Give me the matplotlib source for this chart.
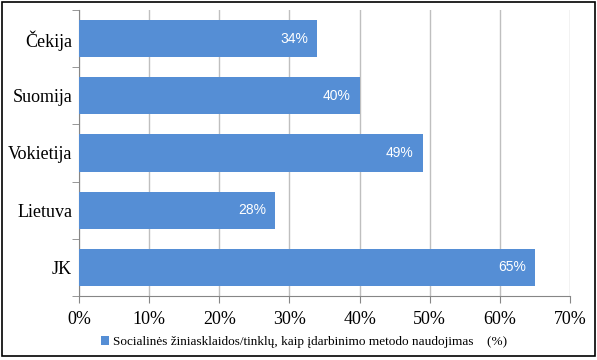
import matplotlib
matplotlib.use("Agg")
import matplotlib.pyplot as plt
from matplotlib.patches import Rectangle
from matplotlib.ticker import FixedLocator, PercentFormatter

categories = ["Čekija", "Suomija", "Vokietija", "Lietuva", "JK"]
values = [34, 40, 49, 28, 65]
xticks = [0, 10, 20, 30, 40, 50, 60, 70]
legend_label = "Socialinės žiniasklaidos/tinklų, kaip įdarbinimo metodo naudojimas    (%)"

fig = plt.figure(figsize=(5.97, 3.6), dpi=100)
ax = fig.add_axes([79/597, 1-296/360, (570-79)/597, (296-10)/360])

ypos = list(range(len(categories)))[::-1]
bars = ax.barh(ypos, values, height=0.65, color="#558ed5", zorder=3, label=legend_label)
for y, v in zip(ypos, values):
    ax.text(v - 1.3, y, f"{v}%", ha="right", va="center", color="white",
            fontsize=10, family="Liberation Sans", zorder=4)

ax.set_xlim(0, 70)
ax.set_ylim(-0.5, len(categories) - 0.5)
ax.set_xticks(xticks)
ax.xaxis.set_major_formatter(PercentFormatter(decimals=0))
ax.set_yticks(ypos)
ax.set_yticklabels(categories)
ax.yaxis.set_minor_locator(FixedLocator([i - 0.5 for i in range(len(categories) + 1)]))
ax.tick_params(axis="y", which="major", length=0, pad=5)
ax.tick_params(axis="y", which="minor", length=5, color="#868686")
ax.tick_params(axis="x", length=5, color="#868686", pad=6)
for lab in ax.get_xticklabels() + ax.get_yticklabels():
    lab.set_family("Liberation Serif")
    lab.set_fontsize(13)

ax.grid(axis="x", color="#bfbfbf", linewidth=1, zorder=0)
for s in ["top", "right"]:
    ax.spines[s].set_visible(False)
for s in ["left", "bottom"]:
    ax.spines[s].set_color("#868686")

leg = fig.legend(handles=[bars], labels=[legend_label], loc="center",
                 bbox_to_anchor=(304/597, 1-342/360), frameon=False,
                 prop={"family": "Liberation Serif", "size": 9.5},
                 handlelength=0.6, handleheight=0.6, handletextpad=0.3)

fig.patches.append(Rectangle((2/597, 1-356/360), 593/597, 354/360, transform=fig.transFigure,
                             fill=False, edgecolor="black", linewidth=1.2))

fig.savefig("out.png", dpi=100)
